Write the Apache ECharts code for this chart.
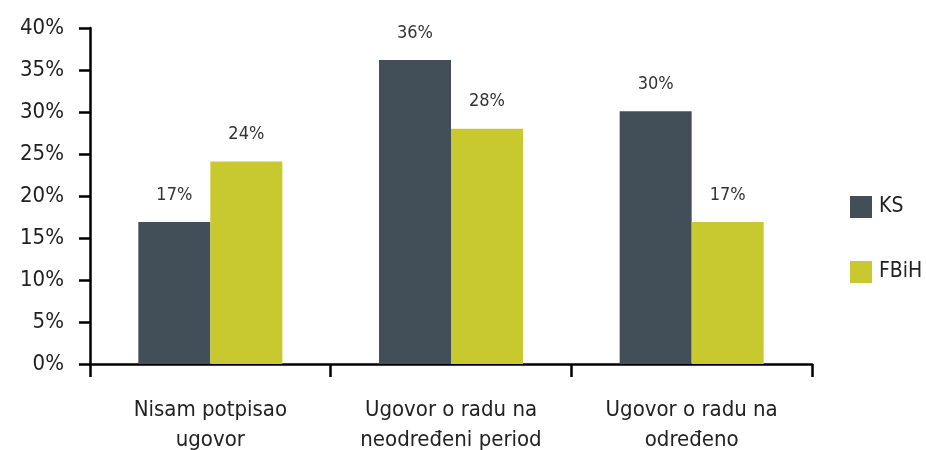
<!DOCTYPE html>
<html><head><meta charset="utf-8">
<script src="https://cdn.jsdelivr.net/npm/echarts@6/dist/echarts.min.js"></script>
<style>html,body{margin:0;padding:0;background:#fff}#c{width:926px;height:450px}</style>
</head><body><div id="c"></div>
<script>
const categories = ['Nisam potpisao\nugovor', 'Ugovor o radu na\nneodređeni period', 'Ugovor o radu na\nodređeno'];
const ksValues = [16.9, 36.2, 30.1];
const fbihValues = [24.1, 28.0, 16.9];
const yTicks = [0, 5, 10, 15, 20, 25, 30, 35, 40];
const FONT = '"DejaVu Sans Condensed", "Liberation Sans Narrow", sans-serif';
const chart = echarts.init(document.getElementById('c'));
const lbl = {show: true, position: 'top', distance: 18, fontFamily: FONT, fontSize: 18, color: '#333',
  formatter: p => Math.round(p.value) + '%'};
chart.setOption({
  animation: false,
  textStyle: {fontFamily: FONT},
  grid: {left: 90, right: 114, top: 28, bottom: 86, containLabel: false, outerBoundsMode: 'none'},
  legend: {orient: 'vertical', left: 845, top: 191, itemWidth: 22, itemHeight: 22, itemGap: 43,
    icon: 'rect', textStyle: {fontFamily: FONT, fontSize: 21, color: '#222', padding: [0,0,0,2]},
    data: ['KS', 'FBiH']},
  xAxis: {type: 'category', data: categories,
    axisLine: {lineStyle: {color: '#000', width: 2.5}},
    axisTick: {show: true, length: 13, lineStyle: {color: '#000', width: 2.5}},
    axisLabel: {fontFamily: FONT, fontSize: 22, color: '#222', lineHeight: 30, margin: 31}},
  yAxis: {type: 'value', min: yTicks[0], max: yTicks[yTicks.length-1], interval: 5,
    splitLine: {show: false},
    axisLine: {show: true, lineStyle: {color: '#000', width: 2.5}},
    axisTick: {show: true, length: 11, lineStyle: {color: '#000', width: 2.5}},
    axisLabel: {fontFamily: FONT, fontSize: 22, color: '#222', margin: 26, formatter: v => v + '%'}},
  series: [
    {name: 'KS', type: 'bar', data: ksValues, barWidth: 72, barGap: '0%', itemStyle: {color: '#424f58'}, label: lbl},
    {name: 'FBiH', type: 'bar', data: fbihValues, barWidth: 72, barGap: '0%', itemStyle: {color: '#c8c92f'}, label: lbl}
  ]
});
</script></body></html>
